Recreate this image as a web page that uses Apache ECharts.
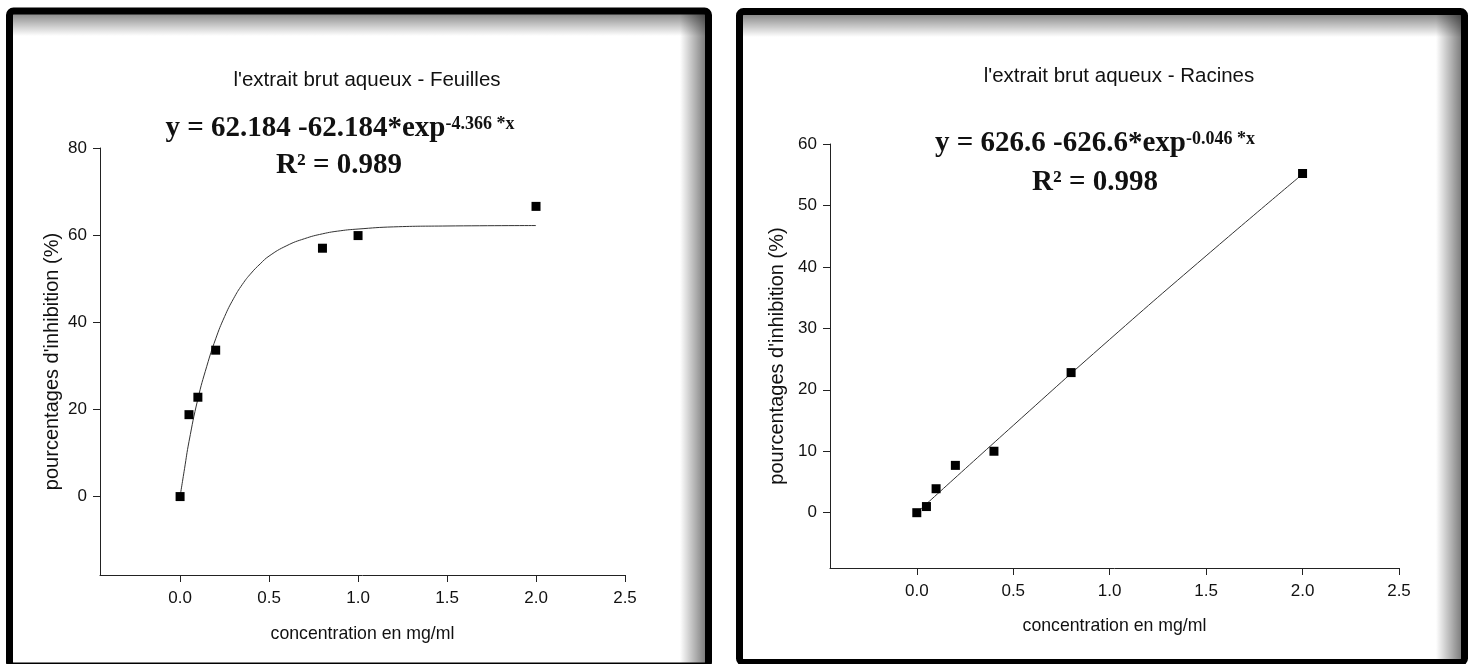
<!DOCTYPE html>
<html>
<head>
<meta charset="utf-8">
<script src="https://cdn.jsdelivr.net/npm/echarts@6/dist/echarts.min.js"></script>
<style>
html,body{margin:0;padding:0;background:#fff;}
#chart{width:1474px;height:664px;}
</style>
</head>
<body>
<div id="chart"></div>
<script>
// ---- data ----
const xTicks = [0, 0.5, 1.0, 1.5, 2.0, 2.5];

const feuillesTitle = "l'extrait brut aqueux - Feuilles";
const feuillesEq = 'y = 62.184 -62.184*exp';
const feuillesEqSup = '-4.366 *x';
const feuillesR2 = 'R² = 0.989';
const feuillesX = [0, 0.05, 0.1, 0.2, 0.8, 1.0, 2.0];
const feuillesY = [0, 18.8, 22.8, 33.6, 57.0, 59.9, 66.6];
const feuillesFitX = [0, 0.025, 0.05, 0.1, 0.15, 0.2, 0.25, 0.3, 0.35, 0.4, 0.45, 0.5, 0.6, 0.7, 0.8, 0.9, 1.0, 1.2, 1.5, 2.0];
const feuillesFitY = [0, 6.4, 12.6, 22.4, 29.9, 36.2, 41.3, 45.4, 48.7, 51.3, 53.4, 55.2, 57.6, 59.2, 60.3, 61.0, 61.4, 61.9, 62.1, 62.2];
const feuillesYTicks = [0, 20, 40, 60, 80];

const racinesTitle = "l'extrait brut aqueux - Racines";
const racinesEq = 'y = 626.6 -626.6*exp';
const racinesEqSup = '-0.046 *x';
const racinesR2 = 'R² = 0.998';
const racinesX = [0, 0.05, 0.1, 0.2, 0.4, 0.8, 2.0];
const racinesY = [0, 1.0, 3.9, 7.7, 10.0, 22.8, 55.2];
const racinesFitX = [0, 0.5, 1.0, 1.5, 2.0];
const racinesFitY = [0, 14.2, 28.2, 41.8, 55.1];
const racinesYTicks = [0, 10, 20, 30, 40, 50, 60];

const xName = 'concentration en mg/ml';
const yName = "pourcentages d'inhibition (%)";

// ---- chart ----
const SANS = '"Liberation Sans", Arial, sans-serif';
const SERIF = '"Liberation Serif", "Times New Roman", serif';
const zip = (xs, ys) => xs.map((x, i) => [x, ys[i]]);

function xAxis(gridIndex, nameGap) {
  return {
    type: 'value', gridIndex, min: -0.45, max: 2.5,
    name: xName, nameLocation: 'middle', nameGap,
    nameTextStyle: {fontFamily: SANS, fontSize: 17.7, color: '#111'},
    axisLine: {onZero: false, lineStyle: {color: '#222', width: 1}},
    axisTick: {show: true, inside: false, length: 7, customValues: xTicks, lineStyle: {color: '#222'}},
    axisLabel: {customValues: xTicks, formatter: v => v.toFixed(1), fontFamily: SANS, fontSize: 17, color: '#111', margin: 15},
    splitLine: {show: false}
  };
}
function yAxis(gridIndex, min, max, ticks, nameGap) {
  return {
    type: 'value', gridIndex, min, max,
    name: yName, nameLocation: 'middle', nameGap,
    nameTextStyle: {fontFamily: SANS, fontSize: 20, color: '#111'},
    axisLine: {onZero: false, lineStyle: {color: '#222', width: 1}},
    axisTick: {show: true, inside: false, length: 7, customValues: ticks, lineStyle: {color: '#222'}},
    axisLabel: {customValues: ticks, fontFamily: SANS, fontSize: 17, color: '#111', margin: 13},
    splitLine: {show: false}
  };
}

function eqText(x, y, main, sup) {
  return {
    type: 'text', x, y, z: 10,
    style: {
      text: '{m|' + main + '}{s|' + sup + '}',
      align: 'center', verticalAlign: 'middle',
      rich: {
        m: {fontFamily: SERIF, fontWeight: 'bold', fontSize: 29, lineHeight: 33, fill: '#111'},
        s: {fontFamily: SERIF, fontWeight: 'bold', fontSize: 18, lineHeight: 18, verticalAlign: 'top', padding: [3, 0, 0, 0], fill: '#111'}
      }
    }
  };
}
function r2Text(x, y, t) {
  return {
    type: 'text', x, y, z: 10,
    style: {text: t, align: 'center', verticalAlign: 'middle', fontFamily: SERIF, fontWeight: 'bold', fontSize: 29, fill: '#111'}
  };
}
function shadeRect(x, y, w, h, horizontal) {
  return {
    type: 'rect', z: 1, silent: true,
    shape: {x, y, width: w, height: h},
    style: {
      fill: horizontal
        ? new echarts.graphic.LinearGradient(0, 0, 1, 0, [{offset: 0, color: 'rgba(0,0,0,0)'}, {offset: 1, color: 'rgba(0,0,0,0.5)'}])
        : new echarts.graphic.LinearGradient(0, 0, 0, 1, [{offset: 0, color: 'rgba(0,0,0,0.45)'}, {offset: 1, color: 'rgba(0,0,0,0)'}])
    }
  };
}

const chart = echarts.init(document.getElementById('chart'), null, {renderer: 'canvas'});
chart.setOption({
  animation: false,
  backgroundColor: '#fff',
  title: [
    {text: feuillesTitle, left: 362, top: 65, textAlign: 'center',
     textStyle: {fontFamily: SANS, fontSize: 20.5, fontWeight: 'normal', color: '#111'}},
    {text: racinesTitle, left: 1114, top: 61, textAlign: 'center',
     textStyle: {fontFamily: SANS, fontSize: 20.5, fontWeight: 'normal', color: '#111'}}
  ],
  grid: [
    {left: 100, right: 849, top: 148, bottom: 89, containLabel: false},
    {left: 830, right: 75, top: 144, bottom: 96, containLabel: false}
  ],
  xAxis: [xAxis(0, 50), xAxis(1, 49)],
  yAxis: [yAxis(0, -18, 80, feuillesYTicks, 38), yAxis(1, -9, 60, racinesYTicks, 43)],
  series: [
    {type: 'line', xAxisIndex: 0, yAxisIndex: 0, data: zip(feuillesFitX, feuillesFitY), smooth: true,
     showSymbol: false, symbol: 'none', lineStyle: {color: '#333', width: 1}, z: 2},
    {type: 'scatter', xAxisIndex: 0, yAxisIndex: 0, data: zip(feuillesX, feuillesY),
     symbol: 'rect', symbolSize: 9, itemStyle: {color: '#000', opacity: 1}, z: 3},
    {type: 'line', xAxisIndex: 1, yAxisIndex: 1, data: zip(racinesFitX, racinesFitY), smooth: true,
     showSymbol: false, symbol: 'none', lineStyle: {color: '#333', width: 1}, z: 2},
    {type: 'scatter', xAxisIndex: 1, yAxisIndex: 1, data: zip(racinesX, racinesY),
     symbol: 'rect', symbolSize: 9, itemStyle: {color: '#000', opacity: 1}, z: 3}
  ],
  graphic: [
    shadeRect(13, 14, 692, 22, false),
    shadeRect(680, 14, 25, 650, true),
    shadeRect(743, 15, 718, 22, false),
    shadeRect(1436, 15, 25, 644, true),
    {type: 'rect', z: 5, silent: true, shape: {x: 9.5, y: 11, width: 699, height: 655, r: 4},
     style: {fill: 'none', stroke: '#000', lineWidth: 7}},
    {type: 'rect', z: 5, silent: true, shape: {x: 739.5, y: 11.5, width: 725, height: 651, r: 4},
     style: {fill: 'none', stroke: '#000', lineWidth: 7}},
    eqText(340, 129, feuillesEq, feuillesEqSup),
    r2Text(339, 166, feuillesR2),
    eqText(1095, 144, racinesEq, racinesEqSup),
    r2Text(1095, 183, racinesR2)
  ]
});
</script>
</body>
</html>
